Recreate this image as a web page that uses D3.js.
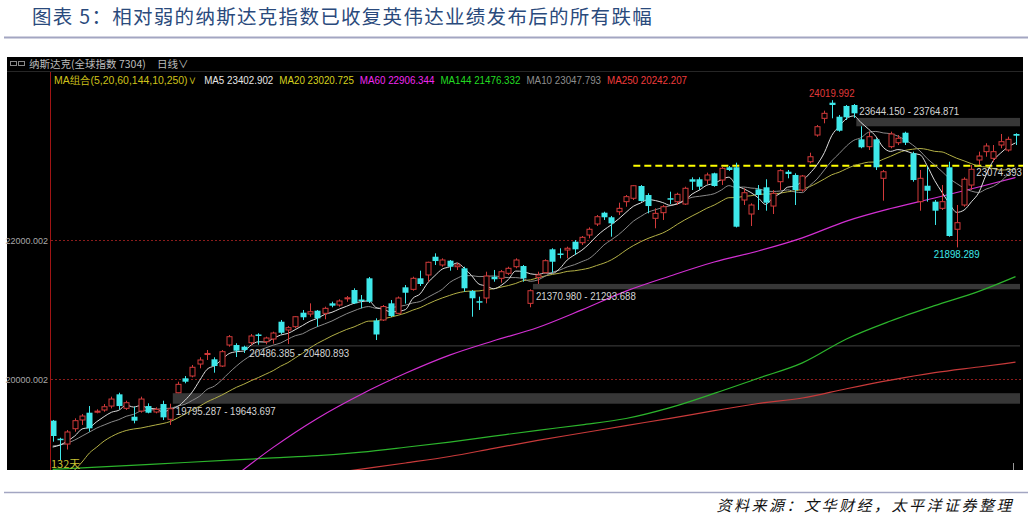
<!DOCTYPE html>
<html>
<head>
<meta charset="utf-8">
<script src="https://cdn.jsdelivr.net/npm/d3@7"></script>
<style>
  body { margin: 0; background: #fff; }
  svg { display: block; }
</style>
</head>
<body>
<svg id="chart" width="1032" height="520"></svg>
<script>
// daily candles (132 days)
const open = [19399,19139,19062,19283,19409,19514,19521,19553,19610,19779,19577,19456,19538,19610,19524,19639,19419,19802,20010,20043,
  20216,20353,20284,20187,20490,20490,20466,20523,20642,20538,20577,20826,20707,20754,20956,20937,20985,20947,21091,21067,
  21156,21283,21146,21452,20843,20851,21091,20947,21322,21293,21452,21500,21763,21644,21706,21619,21596,21269,21122,21168,
  21475,21452,21524,21619,21629,21091,21466,21533,21870,21810,21860,21980,21965,22076,22235,22398,22332,22412,22557,22606,
  22783,22653,22317,22398,22607,22557,22523,22880,22880,22869,22966,22869,23053,23053,22581,22379,22735,22764,22494,22845,
  22989,22942,22725,23133,23518,23759,23984,23782,23937,23951,23456,23350,23456,22894,23350,23407,23551,23254,22557,22787,
  22557,22461,23053,22159,22509,22797,23158,23278,23182,23374,23302,23533];
const high = [19409,19153,19264,19433,19495,19610,19563,19639,19745,19802,19687,19600,19745,19649,19592,19687,19643.697,19961,20043,20202,
  20313,20418,20313,20418,20634,20515,20480.893,20649,20659,20610,20682,20851,20764,20908,20995,21091,20995,21043,21115,21149,
  21197,21308,21211,21471,20875,21067,21139,21190,21355,21475,21562,21691,21812,21740,21716,21677,21619,21283,21187,21547,
  21572,21572,21619,21740,21644,21293.688,21547,21726,21885,21885,21908,22004,22062,22187,22365,22412,22351,22542,22653,22797,
  22797,22678,22461,22509,22701,22686,22773,22908,22908,22975,22975,23061,23071,23119,22750,22533,22797,22880,22725,23024,
  23014,22966,22942,23263,23663,23869,24019.992,23807,23951,23965,23644.150,23566,23471,23014,23566,23518,23566,23278,23014,23061,
  22581,22797,23133,22509,22908,23086,23278,23399,23374,23533,23494,23543];
const low = [19096,18830,18983,19240,19337,19240,19505,19528,19577,19563,19553,19361,19514,19505,19505,19409,19337,19795.287,19938,20024,
  20154,20274,20091,20173,20466,20317,20375,20486.385,20495,20500,20510,20649,20505,20731,20851,20898,20754,20861,21034,21043,
  21115,21081,21019,21096,20562,20836,20894,20937,21088,21273,21341,21403,21644,21619,21562,21572,21259,20898,20995,21091,
  21403,21388,21500,21596,21403,21034,21370.980,21524,21533,21740,21740,21788,21932,22029,22206,22293,22052,22365,22484,22581,
  22557,22389,22173,22293,22523,22509,22509,22725,22725,22812,22773,22797,23000,22185,22509,22206,22437,22427,22379,22725,
  22894,22509,22701,23110,23494,23687,23759,23566,23735,23764.871,23327,23302,23014,22571,23327,23374,23374,22845,22427,22557,
  22221,22437,22052,21898.289,22484,22725,23086,23205,23133,23327,23278,23374];
const close = [19178,19120,19236,19399,19466,19289,19536,19600,19711,19610,19658,19399,19711,19514,19563,19447,19571,19923,19961,20169,
  20274,20368,20187,20394,20610,20408,20418,20620,20627,20591,20663,20667,20740,20898,20890,20970,20875,21019,21057,21125,
  21171,21091,21132,21115,20642,21045,20908,21168,21244,21452,21370,21683,21701,21716,21619,21644,21308,21164,21107,21485,
  21438,21547,21596,21716,21452,21273,21500,21706,21691,21795,21885,21870,22043,22159,22340,22332,22245,22461,22629,22787,
  22567,22494,22389,22484,22593,22663,22750,22845,22773,22942,22783,23038,23014,22196,22686,22509,22653,22542,22678,23004,
  22956,22725,22927,23205,23638,23831,23951,23580,23774,23831,23341,23494,23053,22989,23533,23471,23407,22869,22894,22715,
  22427,22557,22062,22254,22880,23024,23215,23360,23278,23422,23456,23508];

// short moving averages: values read for the first days, then averaged from closes
const ma5Head = [19019,19048,19106,19178];
const ma10Head = [19034,19048,19077,19120,19178,19235,19293,19337,19380];
const ma20Head = [18399,18486,18587,18688,18803,18933,19019,19106,19170,19221,19257,19279,19293,19315,19337,19358,19387,19437,19495];

// long moving averages, read every 6 days
const maDays = [0,6,12,18,24,30,36,42,48,54,60,66,72,78,84,90,96,102,108,114,120,126,131];
const ma60 = [null,null,null,null,18532,19014,19432,19781,20082,20344,20551,20742,20996,21267,21485,21687,21846,22035,22277,22458,22610,22769,22906];
const ma144 = [18696,18729,18762,18796,18829,18862,18894,18946,19016,19091,19176,19260,19339,19430,19587,19792,20011,20232,20577,20836,21058,21263,21476];
const ma250 = [null,null,null,null,null,null,18614,18701,18789,18882,18999,19115,19221,19328,19433,19543,19647,19726,19859,19983,20091,20173,20242];

// legend values
const maNames = ['MA5','MA20','MA60','MA144','MA10','MA250'];
const maLast = ['23402.902','23020.725','22906.344','21476.332','23047.793','20242.207'];

// open gaps: day where the gap starts, and the two prices as labelled
const gapDay = [16, 26, 65, 109];
const gapFirst = ['19795.287','20486.385','21370.980','23644.150'];
const gapSecond = ['19643.697','20480.893','21293.688','23764.871'];

const yTicks = [20000.002, 22000.002];
const resistance = 23074.393;
const resistanceDay = 79;

const svg = d3.select('#chart');
const latin = "'Liberation Sans',Arial,sans-serif";
const cjk = "'Noto Sans CJK SC','Noto Sans',sans-serif";

// the terminal uses a condensed face: squeeze text horizontally
function squeeze(sel, f) {
  sel.each(function () {
    const len = this.getComputedTextLength();
    d3.select(this).attr('textLength', len * f).attr('lengthAdjust', 'spacingAndGlyphs');
  });
  return sel;
}

// title + rules
svg.append('text').attr('x', 32).attr('y', 24)
  .text('图表 5：相对弱的纳斯达克指数已收复英伟达业绩发布后的所有跌幅')
  .attr('font-family', cjk).attr('font-size', 19.5).attr('letter-spacing', 1.3).attr('fill', '#2a4a7c');
svg.append('line').attr('x1', 4).attr('x2', 1028).attr('y1', 37.5).attr('y2', 37.5)
  .attr('stroke', '#a3a6c2').attr('stroke-width', 2);
svg.append('line').attr('x1', 4).attr('x2', 1028).attr('y1', 492.5).attr('y2', 492.5)
  .attr('stroke', '#a3a6c2').attr('stroke-width', 1.5);
svg.append('text').attr('x', 1014).attr('y', 511).attr('text-anchor', 'end')
  .text('资料来源：文华财经，太平洋证券整理')
  .attr('font-family', cjk).attr('font-size', 15).attr('font-style', 'italic')
  .attr('letter-spacing', 2.5).attr('fill', '#111');

// black panel
const panel = {left: 7, right: 1023, top: 57, bottom: 470};
const plotLeft = 50;
svg.append('rect').attr('x', panel.left).attr('y', panel.top)
  .attr('width', panel.right - panel.left).attr('height', panel.bottom - panel.top)
  .attr('fill', '#000');

const x = d3.scaleLinear().domain([0, close.length - 1]).range([52.7, 1015.5]);
const y = d3.scaleLinear().domain([20000.002, 22000.002]).range([379, 240.3]);

// header rows
svg.append('line').attr('x1', panel.left).attr('x2', panel.right).attr('y1', 71.5).attr('y2', 71.5)
  .attr('stroke', '#262626');
svg.append('rect').attr('x', 10.5).attr('y', 61.5).attr('width', 6).attr('height', 4)
  .attr('fill', 'none').attr('stroke', '#8a8a8a');
svg.append('rect').attr('x', 18.5).attr('y', 61.5).attr('width', 6).attr('height', 4)
  .attr('fill', 'none').attr('stroke', '#8a8a8a');
svg.append('text').attr('x', 29).attr('y', 68).text('纳斯达克(全球指数 7304)')
  .attr('font-family', cjk).attr('font-size', 10.5).attr('fill', '#bdbdbd');
svg.append('text').attr('x', 157).attr('y', 68).text('日线∨')
  .attr('font-family', cjk).attr('font-size', 10.5).attr('fill', '#bdbdbd');

const legend = svg.append('g').attr('font-family', latin).attr('font-size', 11);
const combo = squeeze(legend.append('text').attr('x', 54).attr('y', 84)
  .text('MA组合(5,20,60,144,10,250)∨').attr('fill', '#cfc21a'), 0.95);
const maTextColor = ['#e6e6e6','#d6d21e','#f028f0','#22dc22','#8e8e8e','#f03c3c'];
let lx = 54 + +combo.attr('textLength') + 8;
maNames.forEach((n, k) => {
  const t = squeeze(legend.append('text').attr('x', lx).attr('y', 84)
    .text(n + ' ' + maLast[k]).attr('fill', maTextColor[k]), 0.89);
  lx += +t.attr('textLength') + 6;
});

// axis line and grid
svg.append('line').attr('x1', plotLeft + 0.5).attr('x2', plotLeft + 0.5)
  .attr('y1', 72).attr('y2', panel.bottom).attr('stroke', '#a01414');
const grid = svg.append('g');
yTicks.forEach(v => {
  const yy = Math.round(y(v)) + 0.5;
  grid.append('line').attr('x1', plotLeft + 1).attr('x2', panel.right).attr('y1', yy).attr('y2', yy)
    .attr('stroke', '#8a1c1c').attr('stroke-dasharray', '2,2');
  grid.append('text').attr('x', 48).attr('y', yy + 3).attr('text-anchor', 'end')
    .text(v.toFixed(3)).attr('font-family', latin).attr('font-size', 9).attr('fill', '#a9a9a9');
});

svg.append('clipPath').attr('id', 'plotClip').append('rect')
  .attr('x', plotLeft + 1).attr('y', 88).attr('width', panel.right - plotLeft - 1)
  .attr('height', panel.bottom - 88);
const plot = svg.append('g').attr('clip-path', 'url(#plotClip)');

const labelSize = 11.5, labelSqueeze = 0.84;

// gap bands
const bandRight = 1020;
gapDay.forEach((d, k) => {
  const a = +gapFirst[k], b = +gapSecond[k];
  const y0 = y(Math.max(a, b)), y1 = y(Math.min(a, b));
  const bx = x(d) + 2.5;
  plot.append('rect').attr('x', bx).attr('y', y0).attr('width', bandRight - bx)
    .attr('height', Math.max(1.2, y1 - y0)).attr('fill', '#373737');
  const above = a < b;
  squeeze(svg.append('text').attr('x', bx + 3).attr('y', above ? y0 - 3 : y1 + 11)
    .text(gapFirst[k] + ' - ' + gapSecond[k])
    .attr('font-family', latin).attr('font-size', labelSize).attr('fill', '#d4d4d4'), labelSqueeze);
});

// resistance line
plot.append('line').attr('x1', x(resistanceDay)).attr('x2', panel.right)
  .attr('y1', y(resistance)).attr('y2', y(resistance))
  .attr('stroke', '#ffff00').attr('stroke-width', 2).attr('stroke-dasharray', '7,4');
squeeze(svg.append('text').attr('x', 1022).attr('y', y(resistance) + 10).attr('text-anchor', 'end')
  .text(resistance.toFixed(3)).attr('font-family', latin).attr('font-size', labelSize).attr('fill', '#d4d4d4'), labelSqueeze);

// moving averages
function movingAvg(n, head) {
  return close.map((c, i) => i < n - 1 ? head[i] : d3.mean(close.slice(i - n + 1, i + 1)));
}
const dayLine = d3.line().x((v, i) => x(i)).y(v => y(v)).curve(d3.curveMonotoneX);
const sampleLine = d3.line().defined(d => d.v != null).x(d => x(d.i)).y(d => y(d.v)).curve(d3.curveMonotoneX);
const longMa = [[ma250, '#c83a3a'], [ma144, '#2cb42c'], [ma60, '#d22fd2']];
longMa.forEach(([vals, col]) => {
  plot.append('path').datum(maDays.map((i, k) => ({i, v: vals[k]})))
    .attr('d', sampleLine).attr('fill', 'none').attr('stroke', col).attr('stroke-width', 1.2);
});
const shortMa = [[movingAvg(20, ma20Head), '#b3b046'], [movingAvg(10, ma10Head), '#8a8a8a'], [movingAvg(5, ma5Head), '#dcdcdc']];
shortMa.forEach(([vals, col]) => {
  plot.append('path').datum(vals).attr('d', dayLine)
    .attr('fill', 'none').attr('stroke', col).attr('stroke-width', 1);
});

// candles
const red = '#d23a3a', cyan = '#3ee8ea';
const candles = close.map((c, i) => ({i, o: open[i], h: high[i], l: low[i], c}));
const cg = plot.append('g');
candles.forEach(d => {
  const cx = Math.round(x(d.i));
  const up = d.c >= d.o;
  const top = y(Math.max(d.o, d.c)), bot = y(Math.min(d.o, d.c));
  const col = up ? red : cyan;
  if (up) {
    cg.append('line').attr('x1', cx + 0.5).attr('x2', cx + 0.5).attr('y1', y(d.h)).attr('y2', top)
      .attr('stroke', col);
    cg.append('line').attr('x1', cx + 0.5).attr('x2', cx + 0.5).attr('y1', bot).attr('y2', y(d.l))
      .attr('stroke', col);
    cg.append('rect').attr('x', cx - 2).attr('y', top).attr('width', 5)
      .attr('height', Math.max(1, bot - top)).attr('fill', '#000').attr('stroke', col);
  } else {
    cg.append('line').attr('x1', cx + 0.5).attr('x2', cx + 0.5).attr('y1', y(d.h)).attr('y2', y(d.l))
      .attr('stroke', col);
    cg.append('rect').attr('x', cx - 2.5).attr('y', top).attr('width', 6)
      .attr('height', Math.max(1.5, bot - top)).attr('fill', col);
  }
});

// high / low labels
const hiIdx = d3.maxIndex(high), loIdx = d3.minIndex(low.slice(100)) + 100;
squeeze(svg.append('text').attr('x', x(hiIdx)).attr('y', y(high[hiIdx]) - 3).attr('text-anchor', 'middle')
  .text(high[hiIdx].toFixed(3)).attr('font-family', latin).attr('font-size', labelSize).attr('fill', '#e03a3a'), labelSqueeze);
squeeze(svg.append('text').attr('x', x(loIdx)).attr('y', y(low[loIdx]) + 11).attr('text-anchor', 'middle')
  .text(low[loIdx].toFixed(3)).attr('font-family', latin).attr('font-size', labelSize).attr('fill', '#3ee8ea'), labelSqueeze);

svg.append('text').attr('x', 51).attr('y', 468).text(close.length + '天')
  .attr('font-family', cjk).attr('font-size', 11).attr('fill', '#c9c233');
svg.append('line').attr('x1', 1013.5).attr('x2', 1013.5).attr('y1', 463).attr('y2', 470).attr('stroke', '#9a9a9a');
</script>
</body>
</html>
